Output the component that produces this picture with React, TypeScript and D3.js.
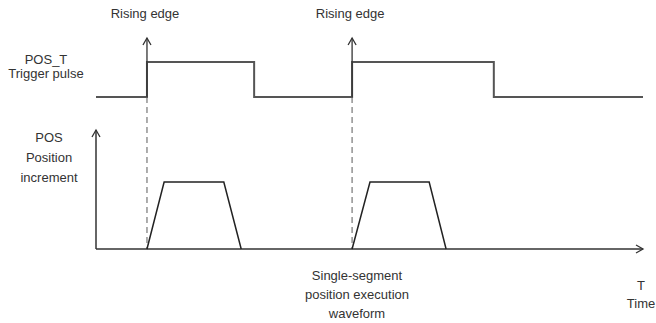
import React, { useEffect, useRef } from 'react';
import * as d3 from 'd3';

// time units along the T axis
const timeDomain = [0, 110];
// trigger pulse: [time, level]
const pulsePoints: [number, number][] = [
  [0, 0], [10.25, 0], [10.25, 1], [31.8, 1], [31.8, 0],
  [51.5, 0], [51.5, 1], [80, 1], [80, 0], [110, 0],
];
const risingEdges = [10.25, 51.5];
// position increment trapezoids: [time, level]
const segments: [number, number][][] = [
  [[10.25, 0], [13.7, 1], [25.7, 1], [29.2, 0]],
  [[51.5, 0], [55.1, 1], [67, 1], [70.4, 0]],
];
const pulseLabel = ['POS_T', 'Trigger pulse'];
const posLabel = ['POS', 'Position', 'increment'];
const waveLabel = ['Single-segment', 'position execution', 'waveform'];
const timeLabel = ['T', 'Time'];
const edgeLabel = 'Rising edge';

export default function App() {
  const svgRef = useRef<SVGSVGElement>(null);

  useEffect(() => {
    const svg = d3.select(svgRef.current);
    svg.selectAll('*').remove();

    const x = d3.scaleLinear().domain(timeDomain).range([96, 643]);
    const pulseY = d3.scaleLinear().domain([0, 1]).range([97, 62]);
    const posY = d3.scaleLinear().domain([0, 1]).range([249, 182]);
    const font = "'Liberation Sans', Arial, sans-serif";
    const ink = '#333';

    const line = d3.line<[number, number]>();

    const arrowUp = (cx: number, tip: number) => {
      svg.append('path')
        .attr('d', `M${cx - 4},${tip + 7}L${cx},${tip}L${cx + 4},${tip + 7}`)
        .attr('fill', 'none').attr('stroke', ink).attr('stroke-width', 1.3);
    };

    // dashed guides from rising edges down to the time axis
    risingEdges.forEach((t) => {
      svg.append('line')
        .attr('x1', x(t)).attr('x2', x(t))
        .attr('y1', pulseY(0)).attr('y2', posY(0))
        .attr('stroke', '#8a8a8a').attr('stroke-width', 1.4)
        .attr('stroke-dasharray', '6,4');
    });

    // trigger pulse
    svg.append('path')
      .attr('d', line(pulsePoints.map(([t, v]) => [x(t), pulseY(v)]))!)
      .attr('fill', 'none').attr('stroke', '#555').attr('stroke-width', 2);

    // rising edge arrows
    risingEdges.forEach((t) => {
      svg.append('line')
        .attr('x1', x(t)).attr('x2', x(t))
        .attr('y1', pulseY(0)).attr('y2', 38)
        .attr('stroke', ink).attr('stroke-width', 1.3);
      arrowUp(x(t), 38);
      svg.append('text')
        .attr('x', x(t) - 2).attr('y', 18)
        .attr('text-anchor', 'middle')
        .attr('font-family', font).attr('font-size', 13).attr('fill', ink)
        .text(edgeLabel);
    });

    // axes of the lower plot
    svg.append('line')
      .attr('x1', x(0)).attr('x2', x(0))
      .attr('y1', posY(0)).attr('y2', 130)
      .attr('stroke', ink).attr('stroke-width', 1.5);
    arrowUp(x(0), 130);
    svg.append('line')
      .attr('x1', x(0)).attr('x2', x(110))
      .attr('y1', posY(0)).attr('y2', posY(0))
      .attr('stroke', ink).attr('stroke-width', 1.5);
    svg.append('path')
      .attr('d', `M${x(110) - 7},${posY(0) - 4}L${x(110)},${posY(0)}L${x(110) - 7},${posY(0) + 4}`)
      .attr('fill', 'none').attr('stroke', ink).attr('stroke-width', 1.3);

    // position increment trapezoids
    segments.forEach((seg) => {
      svg.append('path')
        .attr('d', line(seg.map(([t, v]) => [x(t), posY(v)]))!)
        .attr('fill', 'none').attr('stroke', '#222').attr('stroke-width', 1.5);
    });

    const block = (lines: string[], cx: number, y0: number, dy: number) => {
      lines.forEach((s, i) => {
        svg.append('text')
          .attr('x', cx).attr('y', y0 + i * dy)
          .attr('text-anchor', 'middle')
          .attr('font-family', font).attr('font-size', 13).attr('fill', ink)
          .text(s);
      });
    };
    block(pulseLabel, 46, 64, 14);
    block(posLabel, 49, 142, 20);
    block(waveLabel, 357, 280, 19);
    block(timeLabel, 641, 290, 18);
  }, []);

  return (
    <svg ref={svgRef} width={656} height={323}
      style={{ position: 'absolute', left: 0, top: 0, background: '#fff' }} />
  );
}
